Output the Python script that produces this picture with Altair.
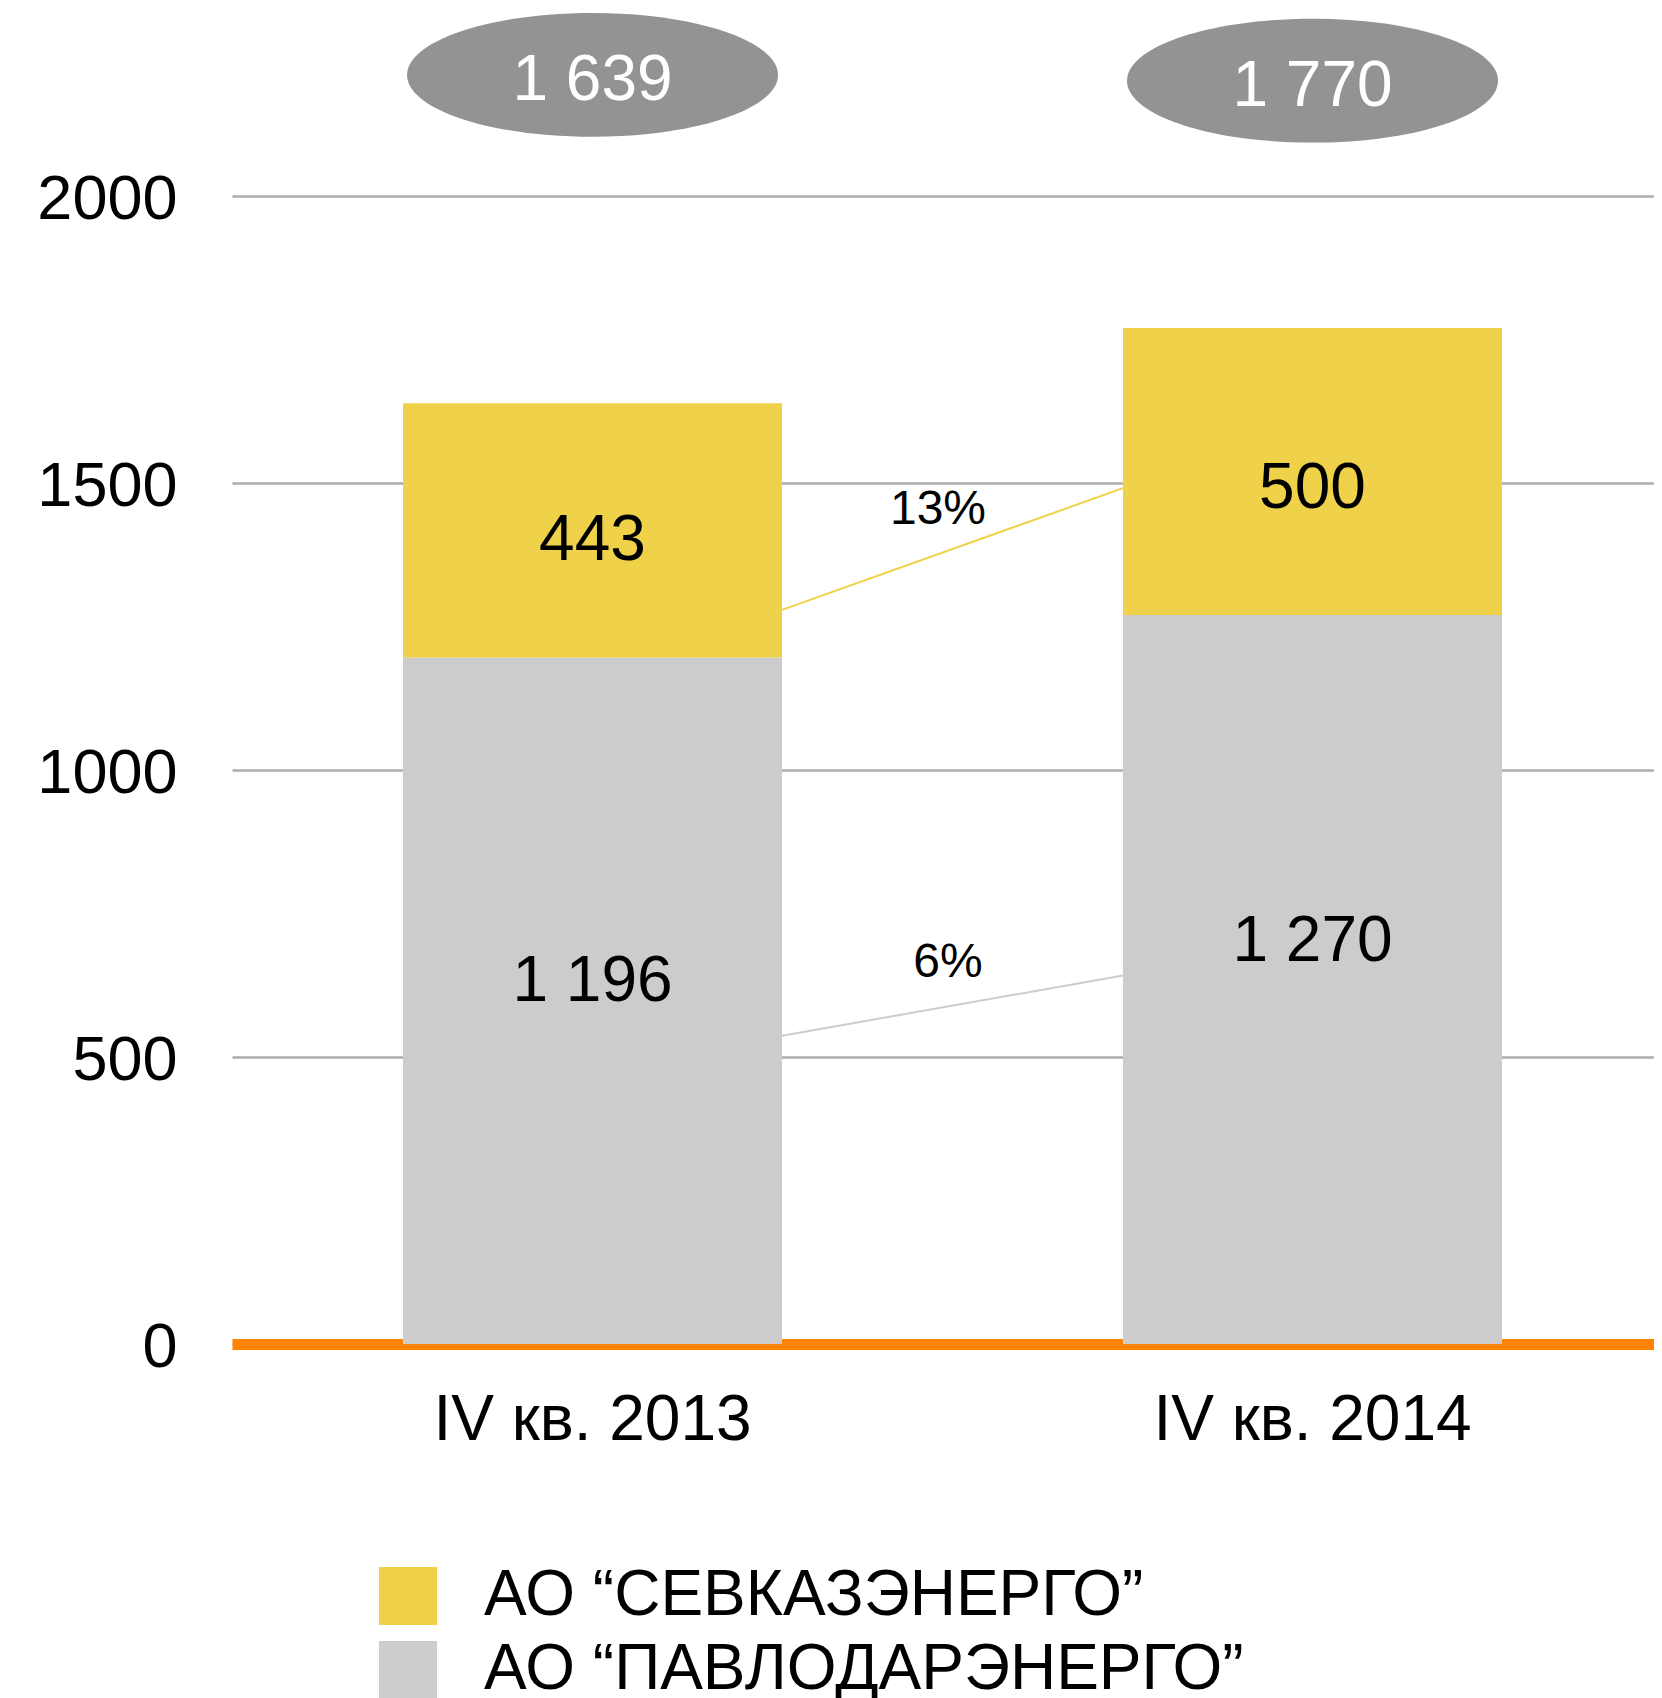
import altair as alt
import pandas as pd

# ---- data ----
categories = ["IV кв. 2013", "IV кв. 2014"]
series_names = ["АО “СЕВКАЗЭНЕРГО”", "АО “ПАВЛОДАРЭНЕРГО”"]
pavlodar = [1196, 1270]
sevkaz = [443, 500]
totals = [1639, 1770]
y_ticks = [0, 500, 1000, 1500, 2000]

# connectors between bars (value at left bar edge, value at right bar edge) and change labels
conn_series = ["sevkaz", "pavlodar"]
conn_start = [1279, 537]
conn_end = [1491, 642]
conn_labels = ["13%", "6%"]
conn_label_y = [1453, 664]

# styling / fine placement (pixels)
conn_label_dx = [156, 166]
pav_label_dy = [-19, -38]
sev_label_dy = [11, 17]
ellipse_level = [2211, 2201]

YELLOW = "#EFD249"
GRAY = "#CBCCCB"
FONT = "Liberation Sans"


def fmt(v):
    return f"{v:,}".replace(",", " ")


rows = []
for i, c in enumerate(categories):
    rows.append(dict(cat=c, series=series_names[1], y0=0, y1=pavlodar[i], label=fmt(pavlodar[i])))
    rows.append(dict(cat=c, series=series_names[0], y0=pavlodar[i], y1=pavlodar[i] + sevkaz[i], label=fmt(sevkaz[i])))
df = pd.DataFrame(rows)
df["mid"] = (df["y0"] + df["y1"]) / 2

conn = pd.DataFrame({
    "frm": [categories[0]] * 2,
    "to": [categories[1]] * 2,
    "v0": conn_start,
    "v1": conn_end,
    "lc": [YELLOW if s == "sevkaz" else GRAY for s in conn_series],
    "label": conn_labels,
    "ly": conn_label_y,
})

tot = pd.DataFrame({"cat": categories, "label": [fmt(t) for t in totals]})

xscale = alt.Scale(paddingInner=0.4736, paddingOuter=0.2243, align=0.5294)
yscale = alt.Scale(domain=[0, 2000], nice=False)

xaxis = alt.Axis(title=None, ticks=False, tickSize=0, labelFontSize=64, labelFont=FONT,
                 labelColor="black", labelPadding=76, labelLimit=2000, labelAlign="center",
                 domainColor="#FF8200", domainWidth=11, labelAngle=0, grid=False)
yaxis = alt.Axis(title=None, ticks=False, tickSize=0, values=y_ticks, format="d", labelFontSize=63,
                 labelFont=FONT, labelColor="black", labelPadding=55, labelOffset=3, domain=False,
                 grid=True, gridColor="#ADADAD", gridWidth=2.5)

bars = alt.Chart(df).mark_bar().encode(
    x=alt.X("cat:N", scale=xscale, axis=xaxis),
    y=alt.Y("y0:Q", scale=yscale, axis=yaxis),
    y2="y1:Q",
    color=alt.Color("series:N", scale=alt.Scale(domain=series_names, range=[YELLOW, GRAY]),
                    legend=alt.Legend(orient="none", legendX=144, legendY=1368, title=None,
                                      symbolType="square", symbolSize=3364, symbolStrokeWidth=0,
                                      labelFontSize=64, labelFont=FONT, labelColor="black",
                                      labelLimit=2000, labelOffset=44, rowPadding=10, padding=0)),
)

label_layers = []
for i, c in enumerate(categories):
    for s, dy in ((series_names[1], pav_label_dy[i]), (series_names[0], sev_label_dy[i])):
        sub = df[(df["cat"] == c) & (df["series"] == s)]
        label_layers.append(
            alt.Chart(sub).mark_text(fontSize=64, font=FONT, color="black", baseline="middle", dy=dy).encode(
                x="cat:N", y="mid:Q", text="label:N"
            )
        )

rules = alt.Chart(conn).mark_rule(strokeWidth=2).encode(
    x=alt.X("frm:N", bandPosition=1),
    x2=alt.X2("to:N", bandPosition=0),
    y="v0:Q",
    y2="v1:Q",
    stroke=alt.Stroke("lc:N", scale=None),
)

pct_layers = []
for i in range(len(conn_labels)):
    pct_layers.append(
        alt.Chart(conn.iloc[[i]]).mark_text(fontSize=48, font=FONT, color="black", baseline="middle",
                                            dx=conn_label_dx[i]).encode(
            x=alt.X("frm:N", bandPosition=1), y="ly:Q", text="label:N"
        )
    )

ELLIPSE = "M-1,0A1,0.334,0,1,0,1,0A1,0.334,0,1,0,-1,0Z"
tot_layers = []
for i in range(len(categories)):
    sub = tot.iloc[[i]]
    tot_layers.append(
        alt.Chart(sub).mark_point(shape=ELLIPSE, size=371 * 371, filled=True, fill="#939393",
                                  opacity=1, strokeWidth=0).encode(
            x="cat:N", y=alt.datum(ellipse_level[i])
        )
    )
    tot_layers.append(
        alt.Chart(sub).mark_text(fontSize=64, font=FONT, color="white", baseline="middle", dy=6).encode(
            x="cat:N", y=alt.datum(ellipse_level[i]), text="label:N"
        )
    )

chart = alt.layer(rules, bars, *label_layers, *pct_layers, *tot_layers).properties(
    width=1422, height=1148,
    autosize=alt.AutoSizeParams(type="none"),
    padding={"left": 224, "top": 188, "right": 0, "bottom": 354},
    background="white",
).configure_view(stroke=None)

chart.save("out.html", embed_options={"renderer": "svg", "actions": False})
